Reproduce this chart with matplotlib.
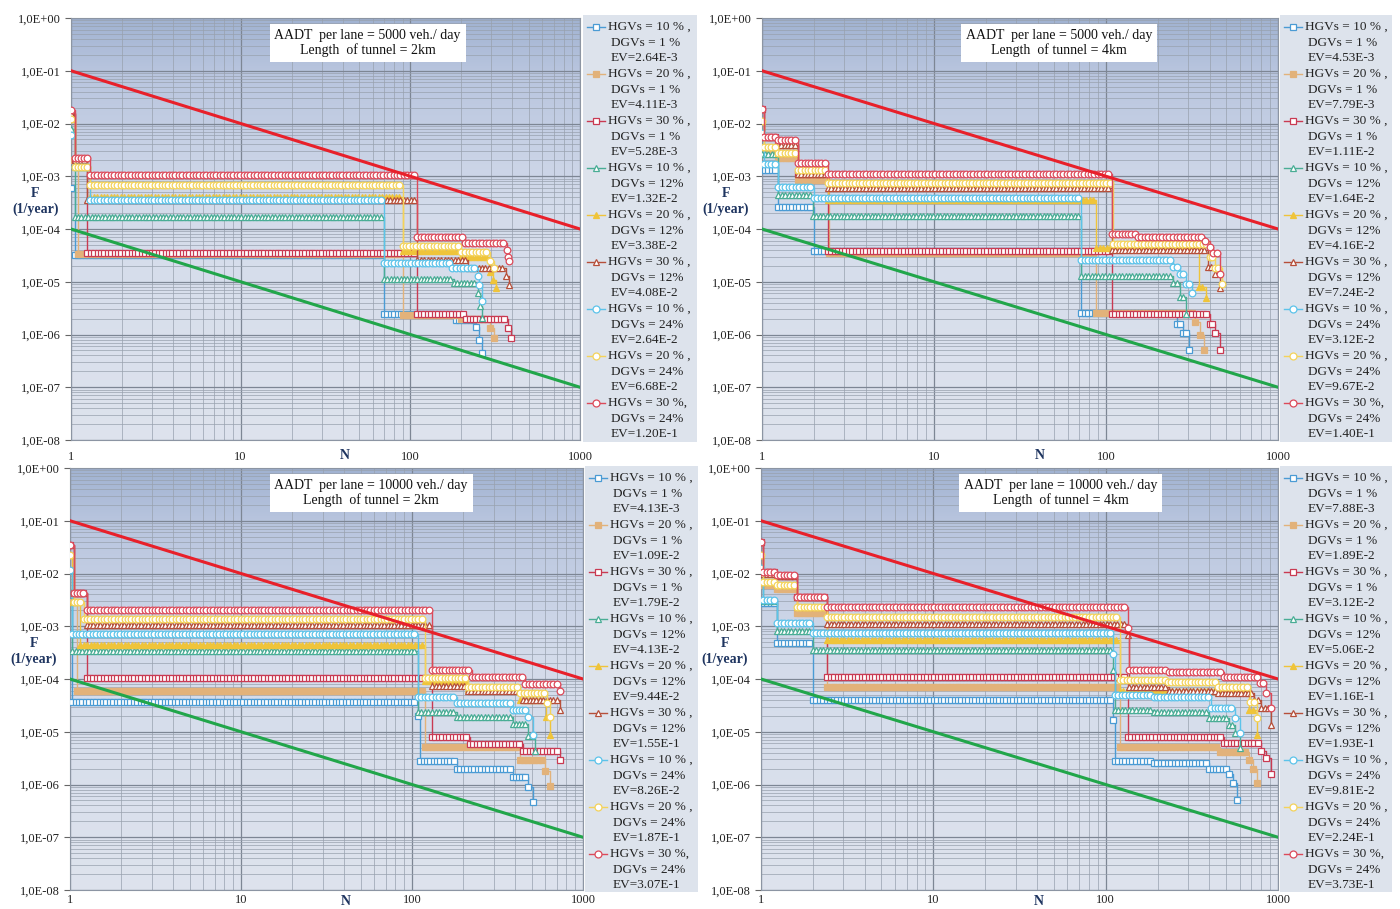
import numpy as np
import matplotlib
matplotlib.use('Agg')
import matplotlib.pyplot as plt
from matplotlib.ticker import LogLocator, FixedLocator, NullFormatter

plt.rcParams['font.family'] = ['Liberation Serif', 'DejaVu Serif']

W, H = 1400, 909

# legend order: HGV share, DGV share
hgv_txt = ['10 % ,', '20 % ,', '30 % ,', '10 % ,', '20 % ,', '30 % ,', '10 % ,', '20 % ,', '30 %,']
dgv_txt = ['1 %', '1 %', '1 %', '12%', '12%', '12%', '24%', '24%', '24%']
colors = ['#4a9bd4', '#e2b27a', '#c93a52', '#49ad95', '#efc43a', '#b64f3a', '#5cc3ea', '#f4d35a', '#dc4a5a']
markers = ['s', 's', 's', '^', '^', '^', 'o', 'o', 'o']
filled = [False, True, False, False, True, False, False, False, False]

# criterion lines (N, F)
upper_n = [1, 1000]
upper_f = [1e-1, 1e-4]
lower_n = [1, 1000]
lower_f = [1e-4, 1e-7]

# panel A: AADT 5000, tunnel 2 km  (step start N, F level)
a_n = [[1, 1.05, 70, 186, 245, 255, 265],
       [1, 1.1, 90, 200, 295, 310],
       [1, 1.05, 1.25, 110, 213, 375, 390],
       [1, 1.05, 70, 180, 250, 258, 265],
       [1, 1.05, 1.3, 90, 200, 295, 308, 320],
       [1, 1.05, 1.25, 110, 220, 365, 380],
       [1, 1.05, 1.3, 70, 177, 250, 255, 265],
       [1, 1.05, 1.3, 90, 200, 295, 310],
       [1, 1.05, 1.3, 110, 210, 370, 375, 380]]
a_f = [[6e-4, 3.2e-5, 2.4e-6, 1.9e-6, 1.4e-6, 8e-7, 4.4e-7],
       [2e-3, 3.4e-5, 2.3e-6, 2.0e-6, 1.3e-6, 8.7e-7],
       [1.6e-2, 2e-3, 3.5e-5, 2.5e-6, 1.95e-6, 1.3e-6, 8.5e-7],
       [8e-3, 1.7e-4, 1.15e-5, 9.5e-6, 6e-6, 3.5e-6, 2.1e-6],
       [1.2e-2, 1.5e-3, 4e-4, 3.8e-5, 2.9e-5, 1.5e-5, 1.1e-5, 7.7e-6],
       [1.5e-2, 2e-3, 3.5e-4, 2.6e-5, 1.8e-5, 1.3e-5, 8.5e-6],
       [6e-3, 1.5e-3, 3.5e-4, 2.3e-5, 1.8e-5, 1.3e-5, 8.5e-6, 4.4e-6],
       [1.2e-2, 1.5e-3, 6.7e-4, 4.8e-5, 3.6e-5, 2.5e-5, 1.8e-5],
       [1.8e-2, 2.2e-3, 1.05e-3, 7.2e-5, 5.4e-5, 4e-5, 3e-5, 2.5e-5]]
a_ev = ['2.64E-3', '4.11E-3', '5.28E-3', '1.32E-2', '3.38E-2', '4.08E-2', '2.64E-2', '6.68E-2', '1.20E-1']

# panel B: AADT 5000, tunnel 4 km
b_n = [[1, 1.24, 2.0, 72, 260, 280, 305],
       [1, 1.24, 1.62, 2.45, 88, 330, 350, 370],
       [1, 1.03, 1.24, 1.62, 2.42, 108, 400, 430, 460],
       [1, 1.24, 1.98, 72, 245, 270, 290],
       [1, 1.03, 1.24, 1.62, 2.42, 88, 345, 380],
       [1, 1.03, 1.24, 1.62, 2.42, 108, 390, 430, 460],
       [1, 1.03, 1.24, 2.0, 72, 245, 270, 290, 315],
       [1, 1.03, 1.24, 1.62, 2.42, 110, 400, 430, 470],
       [1, 1.03, 1.24, 1.62, 2.42, 108, 153, 375, 400, 420, 460]]
b_f = [[1.3e-3, 2.6e-4, 3.9e-5, 2.6e-6, 1.6e-6, 1.05e-6, 5e-7],
       [3.2e-3, 2.2e-3, 8.5e-4, 3.5e-5, 2.6e-6, 1.7e-6, 1e-6, 5e-7],
       [1.9e-2, 5.5e-3, 3.9e-3, 1.1e-3, 3.8e-5, 2.5e-6, 1.6e-6, 1.05e-6, 5e-7],
       [2.6e-3, 4.4e-4, 1.75e-4, 1.3e-5, 9.5e-6, 5.1e-6, 2.5e-6],
       [1.1e-2, 3.6e-3, 2.8e-3, 1.3e-3, 3.6e-4, 4.4e-5, 8e-6, 5e-6],
       [1.9e-2, 5.5e-3, 3.9e-3, 1.1e-3, 6e-4, 4e-5, 1.9e-5, 1.4e-5, 7.5e-6],
       [6.5e-3, 1.7e-3, 6.2e-4, 3.8e-4, 2.6e-5, 1.9e-5, 1.4e-5, 9e-6, 6e-6],
       [1.1e-2, 3.6e-3, 2.8e-3, 1.3e-3, 7.6e-4, 5.3e-5, 3e-5, 1.8e-5, 9e-6],
       [1.9e-2, 5.5e-3, 4.8e-3, 1.75e-3, 1.1e-3, 8.2e-5, 7e-5, 6e-5, 4.5e-5, 3.5e-5, 1.4e-5]]
b_ev = ['4.53E-3', '7.79E-3', '1.11E-2', '1.64E-2', '4.16E-2', '7.24E-2', '3.12E-2', '9.67E-2', '1.40E-1']

# panel C: AADT 10000, tunnel 2 km
c_n = [[1, 1.03, 108, 112, 183, 390, 480, 510],
       [1, 1.1, 119, 430, 600, 640],
       [1, 1.05, 1.25, 131, 218, 445, 735],
       [1, 1.03, 108, 183, 390, 480, 525],
       [1, 1.03, 1.15, 119, 212, 430, 610, 640],
       [1, 1.05, 1.25, 131, 212, 445, 735],
       [1, 1.03, 108, 183, 390, 480, 510],
       [1, 1.05, 1.2, 119, 212, 430, 620, 640],
       [1, 1.05, 1.25, 131, 223, 460, 735]]
c_f = [[3e-3, 3.6e-5, 2e-5, 2.8e-6, 2e-6, 1.4e-6, 9e-7, 4.6e-7],
       [2.9e-3, 6e-5, 5.2e-6, 2.9e-6, 1.8e-6, 9.2e-7],
       [3.5e-2, 4.3e-3, 1.03e-4, 7.8e-6, 5.8e-6, 4.4e-6, 2.9e-6],
       [1.16e-2, 3.4e-4, 2.4e-5, 1.9e-5, 1.4e-5, 8.2e-6, 4.4e-6],
       [2.2e-2, 2.9e-3, 4.5e-4, 9e-5, 6.5e-5, 4e-5, 1.9e-5, 8.8e-6],
       [3.5e-2, 4.3e-3, 1.05e-3, 7.4e-5, 6e-5, 4e-5, 2.6e-5],
       [1.16e-2, 7e-4, 4.6e-5, 3.5e-5, 2.6e-5, 1.9e-5, 8.8e-6],
       [2.2e-2, 2.9e-3, 1.4e-3, 1.03e-4, 7.2e-5, 5.5e-5, 3.5e-5, 1.9e-5],
       [3.5e-2, 4.3e-3, 2e-3, 1.5e-4, 1.1e-4, 8.1e-5, 6e-5]]
c_ev = ['4.13E-3', '1.09E-2', '1.79E-2', '4.13E-2', '9.44E-2', '1.55E-1', '8.26E-2', '1.87E-1', '3.07E-1']

# panel D: AADT 10000, tunnel 4 km
d_n = [[1, 1.24, 2.0, 111, 113, 190, 400, 520, 550, 580],
       [1, 1.24, 1.62, 2.42, 121, 460, 680, 720, 760],
       [1, 1.03, 1.24, 1.62, 2.42, 134, 237, 485, 800, 850, 910],
       [1, 1.03, 1.24, 2.0, 111, 113, 190, 400, 520, 560, 600],
       [1, 1.03, 1.24, 1.62, 2.42, 121, 680, 760],
       [1, 1.03, 1.24, 1.62, 2.42, 134, 137, 232, 450, 730, 800, 910],
       [1, 1.03, 1.24, 2.0, 111, 113, 190, 410, 560, 600],
       [1, 1.03, 1.24, 1.62, 2.42, 121, 230, 450, 690, 760],
       [1, 1.03, 1.24, 1.62, 2.42, 134, 137, 232, 485, 790, 850, 910]]
d_f = [[2.7e-3, 4.8e-4, 4e-5, 1.65e-5, 2.8e-6, 2.6e-6, 2e-6, 1.6e-6, 1.05e-6, 5.1e-7],
       [6e-3, 5e-3, 1.8e-3, 7e-5, 5.2e-6, 4.1e-6, 2.9e-6, 2e-6, 1.05e-6],
       [3.9e-2, 1.07e-2, 9e-3, 3.6e-3, 1.1e-4, 8e-6, 7.8e-6, 6.2e-6, 4.4e-6, 3.2e-6, 1.6e-6],
       [1.28e-2, 3e-3, 8e-4, 3.6e-4, 1.5e-4, 2.6e-5, 2.4e-5, 1.8e-5, 1.35e-5, 9.5e-6, 4.9e-6],
       [2.2e-2, 7e-3, 6e-3, 2.3e-3, 5.5e-4, 6e-5, 2.6e-5, 8.8e-6],
       [3.9e-2, 1e-2, 9e-3, 3.6e-3, 1.1e-3, 6.7e-4, 7e-5, 6e-5, 5.5e-5, 4e-5, 2.8e-5, 1.35e-5],
       [1.28e-2, 3.1e-3, 1.15e-3, 7.5e-4, 3e-4, 5e-5, 4.6e-5, 2.8e-5, 1.8e-5, 9.5e-6],
       [2.2e-2, 7e-3, 6e-3, 2.3e-3, 1.5e-3, 9.6e-5, 8.9e-5, 7.1e-5, 3.6e-5, 1.8e-5],
       [3.9e-2, 1.07e-2, 9.4e-3, 3.6e-3, 2.3e-3, 9.4e-4, 1.5e-4, 1.37e-4, 1.1e-4, 8.5e-5, 5.5e-5, 2.8e-5]]
d_ev = ['7.88E-3', '1.89E-2', '3.12E-2', '5.06E-2', '1.16E-1', '1.93E-1', '9.81E-2', '2.24E-1', '3.73E-1']

aadt = ['5000', '5000', '10000', '10000']
length = ['2km', '4km', '2km', '4km']

# pixel boxes (left, top, width, height)
plot_boxes = [(71, 18, 509, 422), (762, 18, 516, 422), (70, 468, 513, 422), (761, 468, 517, 422)]
leg_boxes = [(583, 15, 114, 427), (1280, 15, 112, 427), (585, 466, 113, 426), (1280, 466, 112, 426)]
text_x = [0.583, 0.576, 0.587, 0.58]
xlab_pad = [8, 8, 3, 3]
n_label_y = [-0.037, -0.037, -0.027, -0.027]

fig = plt.figure(figsize=(W / 100, H / 100), dpi=100)


def px_axes(box, **kw):
    l, t, w, h = box
    return fig.add_axes([l / W, 1 - (t + h) / H, w / W, h / H], **kw)


# background gradient of the plot area
stops = [0.0, 0.12, 0.45, 1.0]
stop_cols = np.array([[0.63, 0.70, 0.82], [0.72, 0.77, 0.87], [0.83, 0.86, 0.92], [0.87, 0.89, 0.93]])
tt = np.linspace(0, 1, 200)
grad = np.stack([np.interp(tt, stops, stop_cols[:, c]) for c in range(3)], axis=-1)[:, None, :]


def draw_series(ax, ns, fs, color, marker, fill):
    ax.step(ns, fs, where='post', color=color, lw=1.0, zorder=3)
    mx, my = [], []
    for k in range(len(ns) - 1):
        cnt = max(1, int(round(np.log10(ns[k + 1] / ns[k]) * 50)))
        pts = np.geomspace(ns[k], ns[k + 1], cnt + 1)[:-1]
        mx.extend(pts)
        my.extend([fs[k]] * cnt)
    mx.append(ns[-1])
    my.append(fs[-1])
    ax.plot(mx, my, ls='none', marker=marker, ms=4.8, mec=color,
            mfc=color if fill else 'white', mew=0.9, zorder=3)


ytick_vals = [1e0, 1e-1, 1e-2, 1e-3, 1e-4, 1e-5, 1e-6, 1e-7, 1e-8]
ytick_lbl = ['1,0E+00', '1,0E-01', '1,0E-02', '1,0E-03', '1,0E-04',
             '1,0E-05', '1,0E-06', '1,0E-07', '1,0E-08']
navy = '#1f3560'

all_n = [a_n, b_n, c_n, d_n]
all_f = [a_f, b_f, c_f, d_f]
all_ev = [a_ev, b_ev, c_ev, d_ev]

for p in range(4):
    bg = px_axes(plot_boxes[p], zorder=0)
    bg.imshow(grad, aspect='auto', extent=[0, 1, 0, 1])
    bg.axis('off')

    ax = px_axes(plot_boxes[p], zorder=1)
    ax.patch.set_alpha(0)
    ax.set_xscale('log')
    ax.set_yscale('log')
    ax.set_xlim(1, 1000)
    ax.set_ylim(1e-8, 1)
    ax.xaxis.set_major_locator(FixedLocator([1, 10, 100, 1000]))
    ax.set_xticklabels(['1', '10', '100', '1000'])
    ax.xaxis.set_minor_locator(LogLocator(base=10, subs=range(2, 10)))
    ax.xaxis.set_minor_formatter(NullFormatter())
    ax.yaxis.set_major_locator(FixedLocator(ytick_vals))
    ax.set_yticklabels(ytick_lbl)
    ax.yaxis.set_minor_locator(LogLocator(base=10, subs=range(2, 10)))
    ax.yaxis.set_minor_formatter(NullFormatter())
    ax.grid(which='major', color='#7d8694', lw=0.9)
    ax.grid(which='minor', color='#98a1ae', lw=0.5)
    ax.set_axisbelow(True)
    ax.tick_params(axis='y', which='major', length=4, color='#666666', labelsize=9,
                   labelcolor='#222222', pad=3)
    ax.tick_params(axis='x', which='major', length=0, labelsize=9, labelcolor='#222222',
                   pad=xlab_pad[p])
    ax.tick_params(which='minor', length=0)
    for s in ax.spines.values():
        s.set_color('#8c95a3')
        s.set_linewidth(0.8)

    for i in range(9):
        draw_series(ax, all_n[p][i], all_f[p][i], colors[i], markers[i], filled[i])

    ax.plot(upper_n, upper_f, color='#e8202a', lw=2.2, zorder=5)
    ax.plot(lower_n, lower_f, color='#21a64a', lw=2.2, zorder=5)

    ax.text(text_x[p], 0.941,
            'AADT  per lane = ' + aadt[p] + ' veh./ day\nLength  of tunnel = ' + length[p],
            transform=ax.transAxes, ha='center', va='center', fontsize=10,
            linespacing=1.15, color='#111111', zorder=6,
            bbox=dict(facecolor='white', edgecolor='none', pad=3.5))

    ax.text(-0.07, 0.585, 'F', transform=ax.transAxes, ha='center', va='center',
            fontsize=10, fontweight='bold', color=navy)
    ax.text(-0.07, 0.547, '(1/year)', transform=ax.transAxes, ha='center', va='center',
            fontsize=10, fontweight='bold', color=navy)
    ax.text(41, n_label_y[p], 'N', transform=ax.get_xaxis_transform(), ha='center', va='center',
            fontsize=10, fontweight='bold', color=navy)

    # legend panel
    l, t, w, h = leg_boxes[p]
    lax = px_axes(leg_boxes[p])
    lax.set_xlim(0, w)
    lax.set_ylim(h, 0)
    lax.set_facecolor('#dde3ec')
    for s in lax.spines.values():
        s.set_visible(False)
    lax.set_xticks([])
    lax.set_yticks([])
    lh = 15.67
    for i in range(9):
        y0 = 12 + i * 3 * lh
        lax.plot([4, 22], [y0, y0], color=colors[i], lw=1.0)
        lax.plot([13], [y0], marker=markers[i], ms=5, mec=colors[i],
                 mfc=colors[i] if filled[i] else 'white', mew=0.9)
        lax.text(25, y0, 'HGVs = ' + hgv_txt[i], va='center', ha='left', fontsize=9.5, color='#222222')
        lax.text(28, y0 + lh, 'DGVs = ' + dgv_txt[i], va='center', ha='left', fontsize=9.5, color='#222222')
        lax.text(28, y0 + 2 * lh, 'EV=' + all_ev[p][i], va='center', ha='left', fontsize=9.5, color='#222222')

fig.savefig('out.png', dpi=100, facecolor='white')
